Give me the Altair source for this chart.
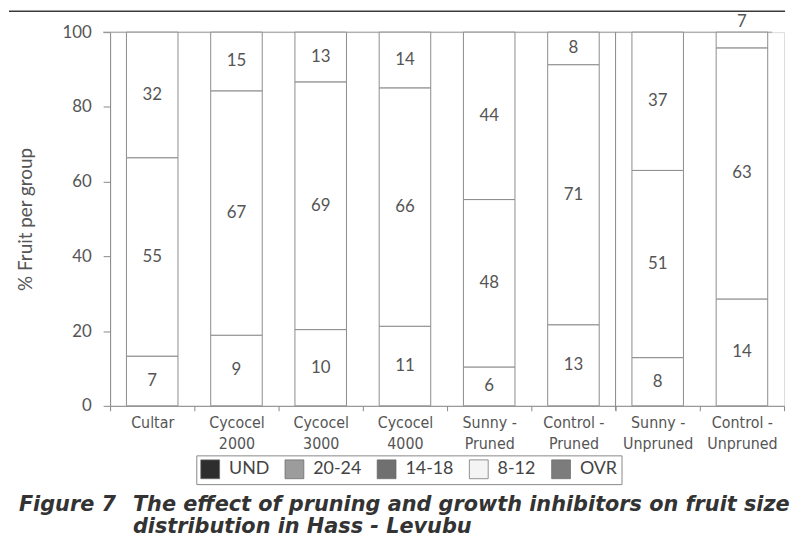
import altair as alt
import pandas as pd

groups = ["Cultar", "Cycocel 2000", "Cycocel 3000", "Cycocel 4000",
          "Sunny - Pruned", "Control - Pruned", "Sunny - Unpruned", "Control - Unpruned"]
lower_pct = [13.3, 18.9, 20.4, 21.3, 10.4, 21.7, 12.9, 28.6]
middle_pct = [53.1, 65.4, 66.3, 63.8, 44.8, 69.6, 50.1, 67.2]
upper_pct = [33.6, 15.7, 13.3, 14.9, 44.8, 8.7, 37.0, 4.2]
lower_lab = [7, 9, 10, 11, 6, 13, 8, 14]
middle_lab = [55, 67, 69, 66, 48, 71, 51, 63]
upper_lab = [32, 15, 13, 14, 44, 8, 37, 7]
size_classes = ["UND", "20-24", "14-18", "8-12", "OVR"]
class_colors = ["#2e2e2e", "#9c9c9c", "#707070", "#f4f4f4", "#7c7c7c"]
separator_before = ["Sunny - Unpruned"]
caption = ["Figure 7", "The effect of pruning and growth inhibitors on fruit size",
           "distribution in Hass - Levubu"]
y_ticks = [0, 20, 40, 60, 80, 100]

rows = []
for i, g in enumerate(groups):
    for k, (vals, labs) in enumerate([(lower_pct, lower_lab), (middle_pct, middle_lab), (upper_pct, upper_lab)]):
        rows.append({"group": g, "seg": k, "pct": vals[i], "label": labs[i]})
df = pd.DataFrame(rows)

W, H = 680, 377
GEO = "Lato, Open Sans, DejaVu Sans"
NARROW = "Liberation Sans Narrow, DejaVu Sans Condensed, Roboto Condensed, Liberation Sans"

label_expr = ("split(replace(replace(datum.label, ' - ', ' -|'), 'Cycocel ', 'Cycocel|'), '|')")

x_enc = alt.X("group:N", sort=groups,
              scale=alt.Scale(paddingInner=0, paddingOuter=0),
              axis=alt.Axis(title=None, labelAngle=0, labelExpr=label_expr, tickBand="extent",
                            tickSize=5, labelPadding=4, labelFont=NARROW, labelFontSize=16,
                            labelColor="#555", labelLineHeight=21, domainColor="#888",
                            tickColor="#888", grid=False))

y_axis = alt.Axis(values=y_ticks, title="% Fruit per group", grid=False, tickSize=7,
                  labelPadding=12, domainColor="#888", tickColor="#888", labelFont=GEO,
                  labelFontSize=17, labelColor="#555", titleFont=GEO, titleFontSize=19,
                  titleFontWeight="normal", titleColor="#555", titlePadding=27)

base = alt.Chart(df).transform_stack(
    stack="pct", groupby=["group"], sort=[alt.SortField("seg", order="ascending")], as_=["y0", "y1"]
).transform_calculate(
    ymid="datum.pct < 6 ? datum.y1 + 2.6 : (datum.y0 + datum.y1) / 2"
)

bars = base.mark_bar(fill="white", stroke="#8c8c8c", strokeWidth=1, width=52).encode(
    x=x_enc,
    y=alt.Y("y0:Q", scale=alt.Scale(domain=[0, 100], nice=False), axis=y_axis),
    y2="y1:Q",
)

texts = base.mark_text(font=GEO, fontSize=17, color="#555").encode(
    x=alt.X("group:N", sort=groups),
    y=alt.Y("ymid:Q"),
    text="label:Q",
)

top_line = alt.Chart(pd.DataFrame({"v": [100]})).mark_rule(color="#999", strokeWidth=1).encode(
    y="v:Q", x=alt.value(-7), x2=alt.value(668)
)

sep = alt.Chart(pd.DataFrame({"group": separator_before})).mark_rule(color="#888", strokeWidth=1).encode(
    x=alt.X("group:N", sort=groups, bandPosition=0), y=alt.value(0), y2=alt.value(H + 5)
)

page_line = alt.Chart(pd.DataFrame({"v": [105.6]})).mark_rule(color="#3a3a3a", strokeWidth=1.6).encode(
    y="v:Q", x=alt.value(-102), x2=alt.value(681)
)

legend_layer = alt.Chart(pd.DataFrame({"cls": size_classes})).mark_square(opacity=0, size=1).encode(
    color=alt.Color("cls:N", sort=size_classes,
                    scale=alt.Scale(domain=size_classes, range=class_colors),
                    legend=alt.Legend(title=None, orient="none", legendX=87, legendY=427,
                                      direction="horizontal", symbolType="square", symbolSize=361,
                                      symbolOpacity=1, symbolStrokeColor="#666", symbolStrokeWidth=0.7,
                                      labelFont=GEO, labelFontSize=18, labelColor="#444",
                                      labelOffset=9, columnPadding=14, strokeColor="#888",
                                      padding=4, fillColor="white")),
    x=alt.value(0), y=alt.value(0),
)

cap_style = dict(align="left", baseline="alphabetic", font="DejaVu Sans", fontSize=21,
                 fontWeight="bold", fontStyle="italic", color="#333")
cap1 = alt.Chart(pd.DataFrame({"t": [caption[0]]})).mark_text(**cap_style).encode(
    text="t:N", x=alt.value(-92), y=alt.value(483))
cap2 = alt.Chart(pd.DataFrame({"t": [caption[1]]})).mark_text(**cap_style).encode(
    text="t:N", x=alt.value(23), y=alt.value(483))
cap3 = alt.Chart(pd.DataFrame({"t": [caption[2]]})).mark_text(**cap_style).encode(
    text="t:N", x=alt.value(23), y=alt.value(505))

chart = alt.layer(page_line, top_line, bars, sep, texts, legend_layer, cap1, cap2, cap3).properties(
    width=W, height=H, padding=0
).configure_view(strokeWidth=0).configure(background="white")

chart.save("out.html", embed_options={"renderer": "svg", "actions": False})
